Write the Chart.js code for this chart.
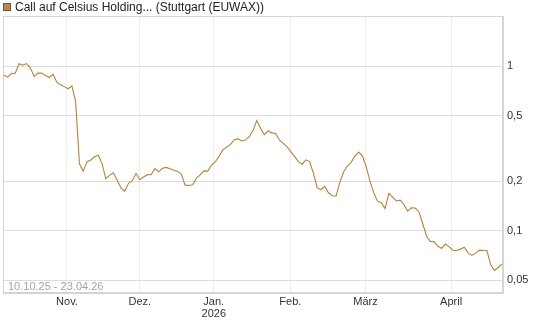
<!DOCTYPE html>
<html><head><meta charset="utf-8">
<script src="https://cdn.jsdelivr.net/npm/chart.js@4/dist/chart.umd.min.js"></script>
<style>html,body{margin:0;padding:0;background:#fff;}#wrap{width:545px;height:327px;position:relative}</style>
</head><body><div id="wrap"><canvas id="c" width="545" height="327"></canvas></div>
<script>
const seriesName = 'Call auf Celsius Holding... (Stuttgart (EUWAX))';
const dateRange = '10.10.25 - 23.04.26';
const prices = [
0.882,0.859,0.902,0.907,1.034,1.013,1.037,0.974,0.866,0.907,
0.907,0.877,0.853,0.891,0.800,0.771,0.751,0.729,0.759,0.606,
0.2547,0.2297,0.2616,0.2686,0.281,0.287,0.2555,0.2066,0.2167,0.2246,
0.2026,0.182,0.1733,0.194,0.2012,0.2231,0.2037,0.2119,0.2188,0.2185,
0.2379,0.2278,0.2392,0.2422,0.2375,0.2329,0.2297,0.2197,0.1887,0.1882,
0.1898,0.2086,0.2182,0.2307,0.230,0.2505,0.262,0.2829,0.3097,0.3216,
0.333,0.3556,0.3621,0.351,0.3551,0.3724,0.4055,0.4669,0.4187,0.3834,
0.4032,0.393,0.3893,0.3556,0.3391,0.3243,0.3024,0.2829,0.2638,0.2526,
0.2694,0.2627,0.224,0.1823,0.1772,0.186,0.1697,0.163,0.1621,0.1962,
0.2269,0.247,0.2598,0.2836,0.3003,0.284,0.2449,0.2001,0.1699,0.151,
0.1476,0.1359,0.1685,0.1598,0.1514,0.1531,0.1441,0.1311,0.1375,0.1371,
0.1293,0.110,0.0924,0.0859,0.0854,0.0802,0.078,0.0828,0.0796,0.0759,
0.0756,0.0771,0.0791,0.0732,0.0706,0.0729,0.076,0.0756,0.0756,0.0619,
0.0572,0.0596,0.0627
];
const monthTickPos = [16.7, 36, 55.6, 75.9, 95.8, 118.5];
const monthLabels = ['Nov.', 'Dez.', ['Jan.', '2026'], 'Feb.', 'März', 'April'];
const yTicks = [0.05, 0.1, 0.2, 0.5, 1];
const yMin = 0.0417, yMax = 2.02;

const FONT = 'Liberation Sans, Arial, sans-serif';
const deco = {
  id: 'deco',
  beforeDatasetsDraw(chart) {
    const a = chart.chartArea, ctx = chart.ctx;
    ctx.save();
    ctx.strokeStyle = '#d4d4d4';
    ctx.lineWidth = 1;
    ctx.strokeRect(a.left + 0.5, a.top + 0.5, a.right - a.left - 1, a.bottom - a.top - 1);
    ctx.restore();
  },
  afterDraw(chart) {
    const ctx = chart.ctx, a = chart.chartArea;
    ctx.save();
    ctx.fillStyle = '#b8894a';
    ctx.fillRect(3, 3, 8, 8);
    ctx.strokeStyle = '#6d5535';
    ctx.lineWidth = 1;
    ctx.strokeRect(3.5, 3.5, 7, 7);
    ctx.font = '12px ' + FONT;
    ctx.textBaseline = 'middle';
    ctx.fillStyle = '#222';
    ctx.fillText(seriesName, 15, 8);
    ctx.font = '11px ' + FONT;
    ctx.fillStyle = '#a4a4a4';
    ctx.fillText(dateRange, a.left + 5, a.bottom - 6);
    ctx.restore();
  }
};

new Chart(document.getElementById('c'), {
  type: 'line',
  data: {
    datasets: [{
      label: seriesName,
      data: prices.map((v, i) => ({ x: i, y: v })),
      borderColor: '#b5823a',
      borderWidth: 1.1,
      pointRadius: 0,
      tension: 0,
      fill: false
    }]
  },
  options: {
    responsive: false,
    animation: false,
    layout: { padding: { left: 3, top: 16, right: 0, bottom: 0 } },
    plugins: { legend: { display: false }, tooltip: { enabled: false } },
    scales: {
      x: {
        type: 'linear', min: -0.26, max: 132.26,
        afterBuildTicks(s) { s.ticks = monthTickPos.map(v => ({ value: v })); },
        afterFit(s) { s.height = 34; },
        ticks: {
          autoSkip: false, maxRotation: 0, padding: 3, color: '#333',
          font: { family: FONT, size: 11, lineHeight: 1.06 },
          callback: (v, i) => monthLabels[i]
        },
        grid: { color: '#eeeeee', drawTicks: false },
        border: { display: true, color: '#d4d4d4' }
      },
      y: {
        type: 'logarithmic', position: 'right', min: yMin, max: yMax,
        afterBuildTicks(s) { s.ticks = yTicks.map(v => ({ value: v })); },
        afterFit(s) { s.width = 42; },
        ticks: {
          padding: 4, color: '#333',
          font: { family: FONT, size: 11 },
          callback: v => String(v).replace('.', ',')
        },
        grid: { color: '#dddddd', drawTicks: false },
        border: { display: true, color: '#d4d4d4' }
      }
    }
  },
  plugins: [deco]
});
</script>
</body></html>
